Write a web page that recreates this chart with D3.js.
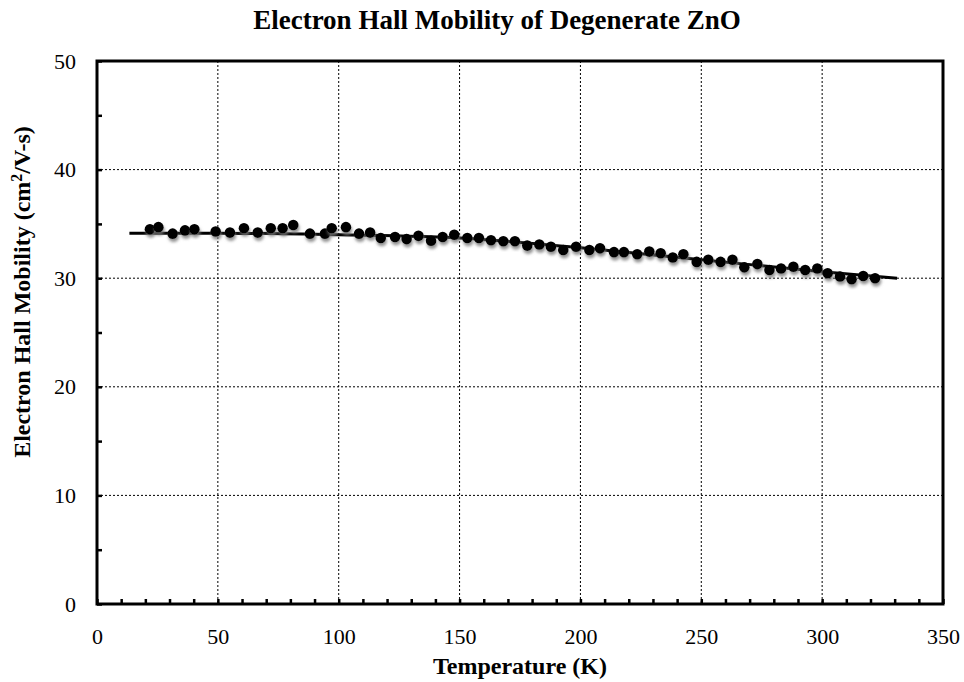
<!DOCTYPE html>
<html>
<head>
<meta charset="utf-8">
<script src="https://cdn.jsdelivr.net/npm/d3@7"></script>
<style>
  body { margin: 0; background: #fff; }
  text { font-family: "Liberation Serif", "Times New Roman", serif; }
</style>
</head>
<body>
<div id="chart"></div>
<script>
// measured points (temperature K, mobility cm2/V-s)
var temps = [21.9, 25.4, 31.3, 36.4, 40.3, 49.1, 55.0, 60.8, 66.5, 71.9, 76.8, 81.2, 88.1,
  94.3, 97.1, 103.0, 108.4, 113.0, 117.4, 123.3, 128.1, 133.0, 138.2, 143.0, 147.8, 153.2,
  158.0, 163.0, 168.1, 172.9, 178.0, 183.0, 187.8, 192.9, 198.2, 203.7, 208.1, 213.9, 218.0,
  223.5, 228.5, 233.2, 238.2, 242.6, 248.1, 252.9, 258.0, 262.9, 267.8, 273.2, 278.2, 283.0,
  288.1, 293.0, 298.0, 302.3, 307.4, 312.2, 317.0, 321.9];
var mobility = [34.5, 34.7, 34.1, 34.4, 34.5, 34.3, 34.2, 34.6, 34.2, 34.6, 34.6, 34.9, 34.1,
  34.1, 34.6, 34.7, 34.1, 34.2, 33.7, 33.8, 33.6, 33.9, 33.45, 33.8, 34.0, 33.7,
  33.7, 33.5, 33.4, 33.4, 33.0, 33.1, 32.9, 32.6, 32.9, 32.6, 32.75, 32.4, 32.4,
  32.2, 32.45, 32.3, 31.9, 32.2, 31.5, 31.7, 31.5, 31.7, 31.0, 31.3, 30.75, 30.9,
  31.05, 30.75, 30.9, 30.45, 30.15, 29.9, 30.2, 30.0];

// fitted curve
var fitTemps = [13.4, 50, 100, 150, 200, 250, 300, 331];
var fitMobility = [34.15, 34.15, 34.0, 33.7, 32.8, 31.7, 30.6, 30.0];

var xTicks = [0, 50, 100, 150, 200, 250, 300, 350];
var yTicks = [0, 10, 20, 30, 40, 50];

var margin = {top: 61, right: 21, bottom: 78, left: 97},
    width = 964 - margin.left - margin.right,
    height = 682 - margin.top - margin.bottom;

var x = d3.scaleLinear().domain([0, 350]).range([0, width]);
var y = d3.scaleLinear().domain([0, 50]).range([height, 0]);

var root = d3.select("#chart").append("svg")
    .attr("width", 964)
    .attr("height", 682);

var defs = root.append("defs");
var f = defs.append("filter").attr("id", "shadow")
    .attr("x", "-50%").attr("y", "-50%").attr("width", "200%").attr("height", "200%");
f.append("feDropShadow")
    .attr("dx", 1).attr("dy", 3).attr("stdDeviation", 1.8)
    .attr("flood-color", "#777").attr("flood-opacity", 0.8);

var svg = root.append("g")
    .attr("transform", "translate(" + margin.left + "," + margin.top + ")");

// gridlines
svg.selectAll(".vgrid")
    .data(xTicks.filter(function(d) { return d > 0 && d < 350; }))
    .enter().append("line")
    .attr("x1", function(d) { return x(d); })
    .attr("x2", function(d) { return x(d); })
    .attr("y1", 0).attr("y2", height)
    .attr("stroke", "#000").attr("stroke-width", 1)
    .attr("stroke-dasharray", "2,2");

svg.selectAll(".hgrid")
    .data(yTicks.filter(function(d) { return d > 0 && d < 50; }))
    .enter().append("line")
    .attr("x1", 0).attr("x2", width)
    .attr("y1", function(d) { return y(d); })
    .attr("y2", function(d) { return y(d); })
    .attr("stroke", "#000").attr("stroke-width", 1)
    .attr("stroke-dasharray", "2,2");

// axes
var xAxis = svg.append("g")
    .attr("transform", "translate(0," + height + ")")
    .call(d3.axisBottom(x)
      .tickValues(d3.range(0, 351, 10))
      .tickSize(-5)
      .tickPadding(24)
      .tickFormat(function(d) { return d % 50 === 0 ? d : ""; }));

var yAxis = svg.append("g")
    .call(d3.axisLeft(y)
      .tickValues(d3.range(0, 51, 5))
      .tickSize(-5)
      .tickPadding(21)
      .tickFormat(function(d) { return d % 10 === 0 ? d : ""; }));

[xAxis, yAxis].forEach(function(a) {
  a.select(".domain").remove();
  a.selectAll(".tick line").attr("stroke", "#000").attr("stroke-width", 2.5);
  a.selectAll(".tick text")
    .style("font-family", "'Liberation Serif', 'Times New Roman', serif")
    .style("font-size", "22px")
    .attr("fill", "#000");
});

// frame
svg.append("rect")
    .attr("x", 0).attr("y", 0)
    .attr("width", width).attr("height", height)
    .attr("fill", "none")
    .attr("stroke", "#000")
    .attr("stroke-width", 3);

// fitted line
var fit = fitTemps.map(function(t, i) { return [t, fitMobility[i]]; });
svg.append("path")
    .datum(fit)
    .attr("fill", "none")
    .attr("stroke", "#000")
    .attr("stroke-width", 3)
    .attr("d", d3.line()
      .curve(d3.curveMonotoneX)
      .x(function(d) { return x(d[0]); })
      .y(function(d) { return y(d[1]); }));

// points
svg.selectAll(".dot")
    .data(temps.map(function(t, i) { return [t, mobility[i]]; }))
    .enter().append("circle")
    .attr("r", 5.3)
    .attr("cx", function(d) { return x(d[0]); })
    .attr("cy", function(d) { return y(d[1]); })
    .attr("fill", "#000")
    .attr("filter", "url(#shadow)");

// titles
root.append("text")
    .attr("x", 497).attr("y", 29)
    .attr("text-anchor", "middle")
    .attr("font-weight", "bold")
    .attr("font-size", "27px")
    .text("Electron Hall Mobility of Degenerate ZnO");

root.append("text")
    .attr("x", margin.left + width / 2).attr("y", 674)
    .attr("text-anchor", "middle")
    .attr("font-weight", "bold")
    .attr("font-size", "24px")
    .text("Temperature (K)");

var yl = root.append("text")
    .attr("transform", "translate(30,292) rotate(-90)")
    .attr("text-anchor", "middle")
    .attr("font-weight", "bold")
    .attr("font-size", "24px");
yl.append("tspan").text("Electron Hall Mobility (cm");
yl.append("tspan").attr("font-size", "16px").attr("dy", "-8").text("2");
yl.append("tspan").attr("dy", "8").text("/V-s)");
</script>
</body>
</html>
